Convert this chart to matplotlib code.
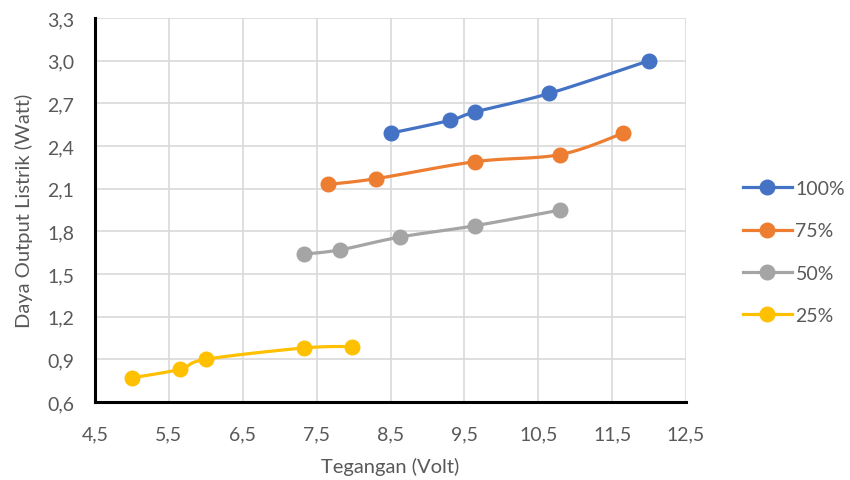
import numpy as np
import matplotlib
matplotlib.use("Agg")
import matplotlib.pyplot as plt
from matplotlib.ticker import FuncFormatter

# tegangan (volt) vs daya output listrik (watt) for each load level
series_names = ["100%", "75%", "50%", "25%"]
colors = ["#4472C4", "#ED7D31", "#A5A5A5", "#FFC000"]

volt_100 = [8.5, 9.3, 9.65, 10.65, 12.0]
watt_100 = [2.49, 2.58, 2.64, 2.77, 3.00]

volt_75 = [7.65, 8.3, 9.65, 10.8, 11.65]
watt_75 = [2.13, 2.17, 2.29, 2.34, 2.49]

volt_50 = [7.33, 7.82, 8.63, 9.65, 10.8]
watt_50 = [1.64, 1.67, 1.76, 1.84, 1.95]

volt_25 = [5.0, 5.65, 6.0, 7.33, 7.98]
watt_25 = [0.77, 0.83, 0.90, 0.98, 0.99]

x_ticks = [4.5, 5.5, 6.5, 7.5, 8.5, 9.5, 10.5, 11.5, 12.5]
y_ticks = [0.6, 0.9, 1.2, 1.5, 1.8, 2.1, 2.4, 2.7, 3.0, 3.3]


def smooth(x, y, n=30):
    """Excel-style smoothed line: cubic Bezier segments with Catmull-Rom controls."""
    x = np.asarray(x, float)
    y = np.asarray(y, float)
    px = np.concatenate([[x[0]], x, [x[-1]]])
    py = np.concatenate([[y[0]], y, [y[-1]]])
    t = np.linspace(0, 1, n)[:, None]
    xs, ys = [], []
    for i in range(len(x) - 1):
        p0 = np.array([px[i + 1], py[i + 1]])
        p3 = np.array([px[i + 2], py[i + 2]])
        c1 = p0 + (np.array([px[i + 2], py[i + 2]]) - np.array([px[i], py[i]])) / 6
        c2 = p3 - (np.array([px[i + 3], py[i + 3]]) - np.array([px[i + 1], py[i + 1]])) / 6
        pts = ((1 - t) ** 3) * p0 + 3 * ((1 - t) ** 2) * t * c1 + 3 * (1 - t) * t ** 2 * c2 + t ** 3 * p3
        xs.append(pts[:, 0])
        ys.append(pts[:, 1])
    return np.concatenate(xs), np.concatenate(ys)


plt.rcParams["font.family"] = ["Lato", "DejaVu Sans"]

fig = plt.figure(figsize=(8.5, 4.81), dpi=100)
ax = fig.add_axes([95 / 850, 1 - 403 / 481, (686 - 95) / 850, (403 - 19) / 481])

all_x = [volt_100, volt_75, volt_50, volt_25]
all_y = [watt_100, watt_75, watt_50, watt_25]
for name, c, xv, yv in zip(series_names, colors, all_x, all_y):
    sx, sy = smooth(xv, yv)
    ax.plot(sx, sy, color=c, lw=2.3, solid_capstyle="round", zorder=3)
    ax.plot(xv, yv, "o", color=c, ms=10.5, zorder=4)
    ax.plot([], [], "-o", color=c, lw=2.3, ms=10.5, label=name)

ax.set_xlim(4.5, 12.5)
ax.set_ylim(0.6, 3.3)
ax.set_xticks(x_ticks)
ax.set_yticks(y_ticks)
comma = FuncFormatter(lambda v, p: f"{v:.1f}".replace(".", ","))
ax.xaxis.set_major_formatter(comma)
ax.yaxis.set_major_formatter(comma)
ax.grid(True, color="#D9D9D9", lw=1.2, zorder=0)
ax.set_axisbelow(True)

for s in ["top", "right"]:
    ax.spines[s].set_visible(False)
for s in ["left", "bottom"]:
    ax.spines[s].set_color("black")
    ax.spines[s].set_linewidth(2.2)

ax.tick_params(length=0, labelsize=14, colors="#595959")
ax.tick_params(axis="y", pad=15)
ax.tick_params(axis="x", pad=17)
ax.set_xlabel("Tegangan (Volt)", fontsize=14.5, color="#595959", labelpad=10)
ax.set_ylabel("Daya Output Listrik (Watt)", fontsize=14.5, color="#595959", labelpad=10)

fig.legend(loc="center left", bbox_to_anchor=(743 / 850, 1 - 253 / 481), frameon=False,
           fontsize=14, labelspacing=1.3, handlelength=2.5, handletextpad=0.2,
           borderpad=0, borderaxespad=0, labelcolor="#595959")

fig.savefig("out.png", dpi=100)
